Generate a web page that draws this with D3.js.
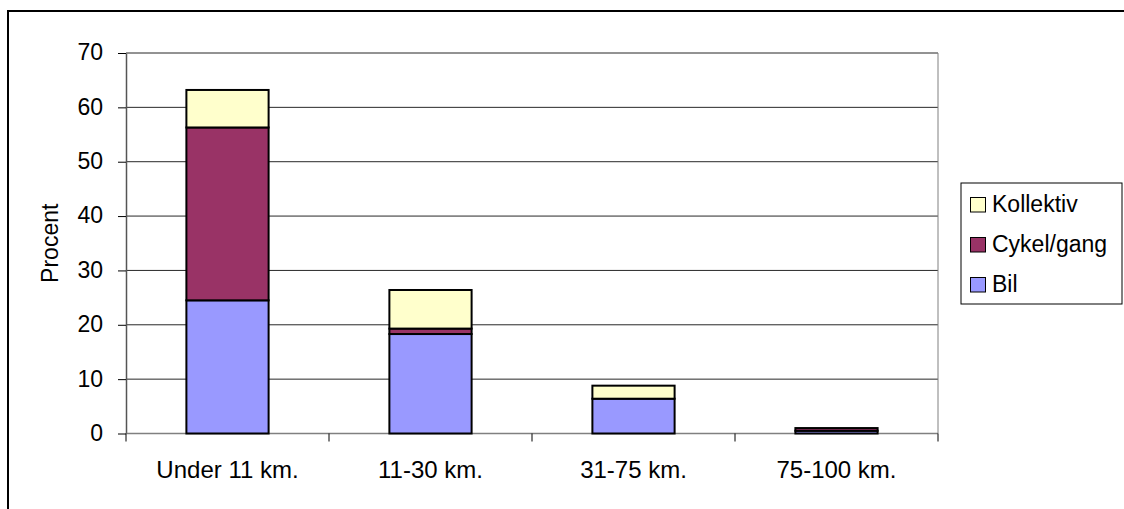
<!DOCTYPE html>
<html>
<head>
<meta charset="utf-8">
<script src="https://cdn.jsdelivr.net/npm/d3@7"></script>
<style>
  html, body { margin: 0; padding: 0; background: #fff; }
  svg { display: block; font-family: "Liberation Sans", Arial, sans-serif; }
</style>
</head>
<body>
<svg id="chart" width="1124" height="509"></svg>
<script>
// Trip distance categories and mode shares (percent)
const categories = ["Under 11 km.", "11-30 km.", "31-75 km.", "75-100 km."];
const bil = [24.5, 18.3, 6.4, 0.5];
const cykelGang = [31.8, 1.0, 0.0, 0.5];
const kollektiv = [6.9, 7.1, 2.4, 0.0];
const yTicks = [0, 10, 20, 30, 40, 50, 60, 70];

const seriesNames = ["Bil", "Cykel/gang", "Kollektiv"];
const colors = { "Bil": "#9999ff", "Cykel/gang": "#993366", "Kollektiv": "#ffffcc" };
const FONT = 23;

const rows = categories.map((c, i) => ({
  cat: c, "Bil": bil[i], "Cykel/gang": cykelGang[i], "Kollektiv": kollektiv[i]
}));

const svg = d3.select("#chart");
const plot = { left: 126, right: 938, top: 53, bottom: 433.5 };

// outer chart frame (right and bottom edges fall outside the view)
svg.append("rect")
  .attr("x", 8).attr("y", 11)
  .attr("width", 1130).attr("height", 510)
  .attr("fill", "none").attr("stroke", "#000").attr("stroke-width", 2);

const x = d3.scaleBand().domain(categories).range([plot.left, plot.right]).paddingInner(0).paddingOuter(0);
const y = d3.scaleLinear().domain([0, 70]).range([plot.bottom, plot.top]);

// horizontal gridlines
svg.append("g").selectAll("line").data(yTicks.filter(t => t > 0)).join("line")
  .attr("x1", plot.left).attr("x2", plot.right)
  .attr("y1", d => y(d)).attr("y2", d => y(d))
  .attr("stroke", "#000").attr("stroke-opacity", 0.85).attr("stroke-width", 1);

// right edge of plot
svg.append("line")
  .attr("x1", plot.right).attr("x2", plot.right)
  .attr("y1", plot.top).attr("y2", plot.bottom)
  .attr("stroke", "#808080").attr("stroke-width", 1);

// y axis
const yAxis = svg.append("g").attr("transform", `translate(${plot.left},0)`)
  .call(d3.axisLeft(y).tickValues(yTicks).tickSize(8).tickSizeOuter(0).tickPadding(15));
yAxis.attr("font-size", null).attr("font-family", null);
yAxis.select(".domain").attr("stroke", "#555").attr("stroke-width", 1.5);
yAxis.selectAll(".tick line").attr("stroke", "#000");
yAxis.selectAll("text").attr("font-size", FONT).attr("fill", "#000").attr("dy", "0.3em");

// x axis with ticks between categories
const xAxisG = svg.append("g").attr("transform", `translate(0,${plot.bottom})`);
xAxisG.append("line").attr("x1", plot.left).attr("x2", plot.right)
  .attr("stroke", "#808080").attr("stroke-width", 1.5);
const bounds = categories.map(c => x(c)).concat([plot.right]);
xAxisG.selectAll("line.tk").data(bounds).join("line").attr("class", "tk")
  .attr("x1", d => d).attr("x2", d => d).attr("y1", 0).attr("y2", 8)
  .attr("stroke", "#000");
xAxisG.selectAll("text").data(categories).join("text")
  .attr("x", d => x(d) + x.bandwidth() / 2).attr("y", 44.5)
  .attr("text-anchor", "middle").attr("font-size", 24).attr("fill", "#000")
  .text(d => d);

// y axis title
svg.append("text")
  .attr("transform", `translate(58,${(plot.top + plot.bottom) / 2}) rotate(-90)`)
  .attr("text-anchor", "middle").attr("font-size", FONT).attr("fill", "#000")
  .text("Procent");

// stacked bars
const stack = d3.stack().keys(seriesNames)(rows);
const barW = x.bandwidth() * 0.405;
svg.append("g").selectAll("g").data(stack).join("g")
  .attr("fill", d => colors[d.key])
  .selectAll("rect").data(d => d.filter(p => p[1] - p[0] > 0)).join("rect")
  .attr("x", d => x(d.data.cat) + (x.bandwidth() - barW) / 2)
  .attr("width", barW)
  .attr("y", d => y(d[1]))
  .attr("height", d => y(d[0]) - y(d[1]))
  .attr("stroke", "#000").attr("stroke-width", 2);

// legend
const lg = svg.append("g");
lg.append("rect").attr("x", 961).attr("y", 183).attr("width", 161).attr("height", 121)
  .attr("fill", "#fff").attr("stroke", "#000").attr("stroke-width", 1);
const legendItems = ["Kollektiv", "Cykel/gang", "Bil"];
legendItems.forEach((k, i) => {
  const base = 212 + i * 40;
  lg.append("rect").attr("x", 970.5).attr("y", base - 14.5).attr("width", 15).attr("height", 14.5)
    .attr("fill", colors[k]).attr("stroke", "#000").attr("stroke-width", 1);
  lg.append("text").attr("x", 992).attr("y", base)
    .attr("font-size", FONT).attr("fill", "#000").text(k);
});
</script>
</body>
</html>
